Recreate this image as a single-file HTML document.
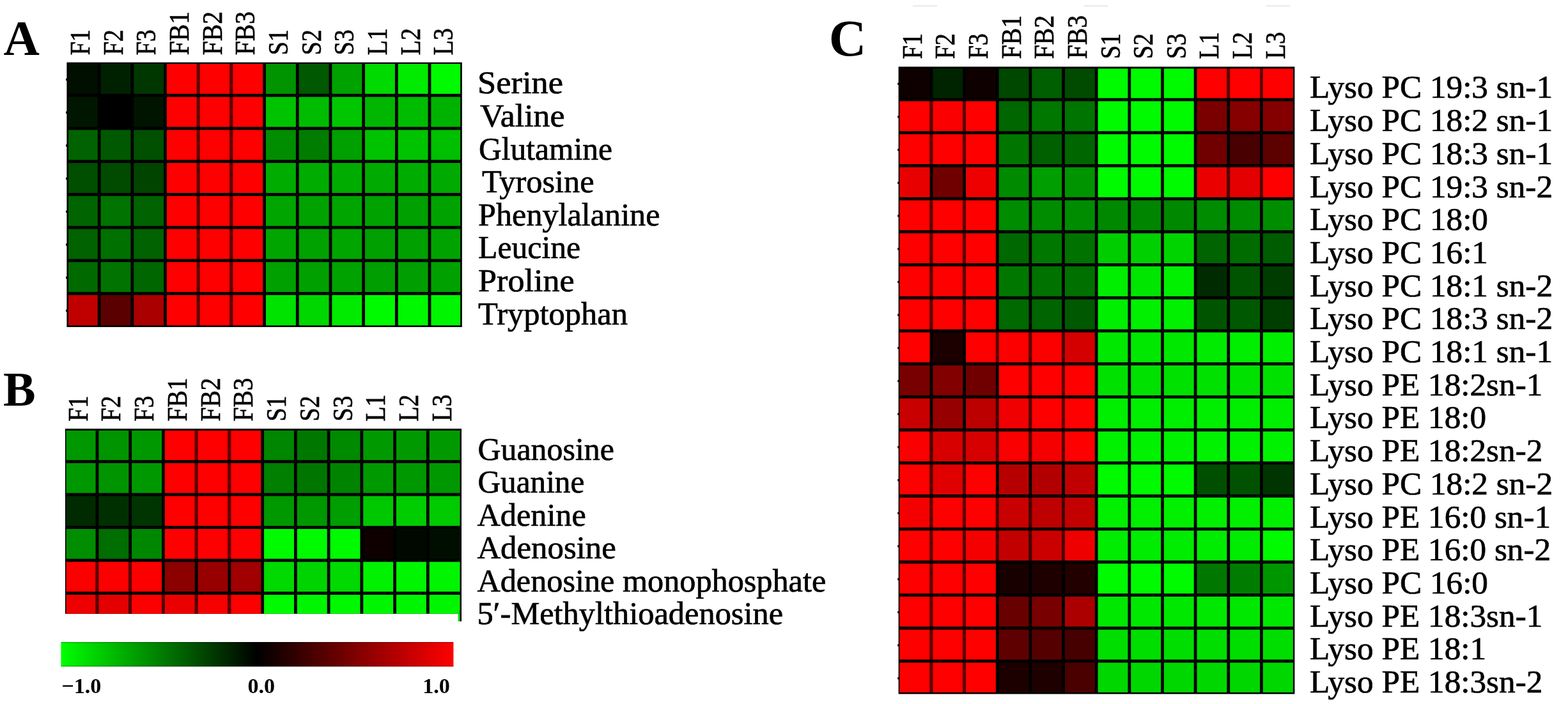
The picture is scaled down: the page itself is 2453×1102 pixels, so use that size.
<!DOCTYPE html>
<html lang="en">
<head>
<meta charset="utf-8">
<title>Heatmap of metabolites</title>
<style>
html,body{margin:0;padding:0;background:#fff;}
body{width:2453px;height:1102px;overflow:hidden;}
svg{display:block;}
text{font-family:"Liberation Serif","DejaVu Serif",serif;fill:#000;}
.pl{font-weight:bold;}
.sl{font-weight:bold;}
.cl{stroke:#000;stroke-width:0.7px;}
.rl{stroke:#000;stroke-width:0.7px;}
</style>
</head>
<body>
<svg width="2453" height="1102" viewBox="0 0 2453 1102">
<defs><linearGradient id="cb" x1="0" x2="1" y1="0" y2="0"><stop offset="0" stop-color="#00ff00"/><stop offset="0.5" stop-color="#000000"/><stop offset="1" stop-color="#ff0000"/></linearGradient></defs>
<rect x="1428" y="8.5" width="38" height="1.6" fill="#e4e4e4"/>
<rect x="1695.5" y="8.5" width="38" height="1.6" fill="#e4e4e4"/>
<rect x="1980.6" y="8.5" width="38" height="1.6" fill="#e4e4e4"/>
<g>
<rect x="104.4" y="97.6" width="618.4" height="414.4" fill="#000"/>
<rect x="107" y="100" width="45.8" height="46.9" fill="#000f00"/>
<rect x="157.6" y="100" width="46.88" height="46.9" fill="#002100"/>
<rect x="209.28" y="100" width="46.88" height="46.9" fill="#003700"/>
<rect x="260.96" y="100" width="46.88" height="46.9" fill="#ff0000"/>
<rect x="307.84" y="100" width="4.8" height="46.9" fill="#5b0000"/>
<rect x="312.64" y="100" width="46.88" height="46.9" fill="#ff0000"/>
<rect x="359.52" y="100" width="4.8" height="46.9" fill="#5b0000"/>
<rect x="364.32" y="100" width="46.88" height="46.9" fill="#ff0000"/>
<rect x="416" y="100" width="46.88" height="46.9" fill="#009400"/>
<rect x="467.68" y="100" width="46.88" height="46.9" fill="#005800"/>
<rect x="519.36" y="100" width="46.88" height="46.9" fill="#00a200"/>
<rect x="571.04" y="100" width="46.88" height="46.9" fill="#00da00"/>
<rect x="622.72" y="100" width="46.88" height="46.9" fill="#00eb00"/>
<rect x="674.4" y="100" width="45.8" height="46.9" fill="#00fa00"/>
<rect x="107" y="151.7" width="45.8" height="46.9" fill="#001600"/>
<rect x="157.6" y="151.7" width="46.88" height="46.9" fill="#000000"/>
<rect x="209.28" y="151.7" width="46.88" height="46.9" fill="#001400"/>
<rect x="260.96" y="151.7" width="46.88" height="46.9" fill="#ff0000"/>
<rect x="307.84" y="151.7" width="4.8" height="46.9" fill="#5b0000"/>
<rect x="312.64" y="151.7" width="46.88" height="46.9" fill="#ff0000"/>
<rect x="359.52" y="151.7" width="4.8" height="46.9" fill="#5b0000"/>
<rect x="364.32" y="151.7" width="46.88" height="46.9" fill="#ff0000"/>
<rect x="416" y="151.7" width="46.88" height="46.9" fill="#00c300"/>
<rect x="467.68" y="151.7" width="46.88" height="46.9" fill="#00bc00"/>
<rect x="519.36" y="151.7" width="46.88" height="46.9" fill="#00c600"/>
<rect x="571.04" y="151.7" width="46.88" height="46.9" fill="#00b600"/>
<rect x="622.72" y="151.7" width="46.88" height="46.9" fill="#00bc00"/>
<rect x="674.4" y="151.7" width="45.8" height="46.9" fill="#00b200"/>
<rect x="107" y="203.4" width="45.8" height="46.9" fill="#006200"/>
<rect x="157.6" y="203.4" width="46.88" height="46.9" fill="#005800"/>
<rect x="209.28" y="203.4" width="46.88" height="46.9" fill="#005000"/>
<rect x="260.96" y="203.4" width="46.88" height="46.9" fill="#ff0000"/>
<rect x="307.84" y="203.4" width="4.8" height="46.9" fill="#5b0000"/>
<rect x="312.64" y="203.4" width="46.88" height="46.9" fill="#ff0000"/>
<rect x="359.52" y="203.4" width="4.8" height="46.9" fill="#5b0000"/>
<rect x="364.32" y="203.4" width="46.88" height="46.9" fill="#ff0000"/>
<rect x="416" y="203.4" width="46.88" height="46.9" fill="#008e00"/>
<rect x="467.68" y="203.4" width="46.88" height="46.9" fill="#007d00"/>
<rect x="519.36" y="203.4" width="46.88" height="46.9" fill="#00a000"/>
<rect x="571.04" y="203.4" width="46.88" height="46.9" fill="#00c300"/>
<rect x="622.72" y="203.4" width="46.88" height="46.9" fill="#00c300"/>
<rect x="674.4" y="203.4" width="45.8" height="46.9" fill="#00be00"/>
<rect x="107" y="255.1" width="45.8" height="46.9" fill="#004e00"/>
<rect x="157.6" y="255.1" width="46.88" height="46.9" fill="#004b00"/>
<rect x="209.28" y="255.1" width="46.88" height="46.9" fill="#004400"/>
<rect x="260.96" y="255.1" width="46.88" height="46.9" fill="#ff0000"/>
<rect x="307.84" y="255.1" width="4.8" height="46.9" fill="#5b0000"/>
<rect x="312.64" y="255.1" width="46.88" height="46.9" fill="#ff0000"/>
<rect x="359.52" y="255.1" width="4.8" height="46.9" fill="#5b0000"/>
<rect x="364.32" y="255.1" width="46.88" height="46.9" fill="#ff0000"/>
<rect x="416" y="255.1" width="46.88" height="46.9" fill="#00ac00"/>
<rect x="467.68" y="255.1" width="46.88" height="46.9" fill="#00ac00"/>
<rect x="519.36" y="255.1" width="46.88" height="46.9" fill="#00ac00"/>
<rect x="571.04" y="255.1" width="46.88" height="46.9" fill="#00aa00"/>
<rect x="622.72" y="255.1" width="46.88" height="46.9" fill="#00ac00"/>
<rect x="674.4" y="255.1" width="45.8" height="46.9" fill="#00aa00"/>
<rect x="107" y="306.8" width="45.8" height="46.9" fill="#006400"/>
<rect x="157.6" y="306.8" width="46.88" height="46.9" fill="#007300"/>
<rect x="209.28" y="306.8" width="46.88" height="46.9" fill="#006200"/>
<rect x="260.96" y="306.8" width="46.88" height="46.9" fill="#ff0000"/>
<rect x="307.84" y="306.8" width="4.8" height="46.9" fill="#5b0000"/>
<rect x="312.64" y="306.8" width="46.88" height="46.9" fill="#ff0000"/>
<rect x="359.52" y="306.8" width="4.8" height="46.9" fill="#5b0000"/>
<rect x="364.32" y="306.8" width="46.88" height="46.9" fill="#ff0000"/>
<rect x="416" y="306.8" width="46.88" height="46.9" fill="#00a500"/>
<rect x="467.68" y="306.8" width="46.88" height="46.9" fill="#00a200"/>
<rect x="519.36" y="306.8" width="46.88" height="46.9" fill="#00a500"/>
<rect x="571.04" y="306.8" width="46.88" height="46.9" fill="#00a200"/>
<rect x="622.72" y="306.8" width="46.88" height="46.9" fill="#00a000"/>
<rect x="674.4" y="306.8" width="45.8" height="46.9" fill="#00a200"/>
<rect x="107" y="358.5" width="45.8" height="46.9" fill="#006200"/>
<rect x="157.6" y="358.5" width="46.88" height="46.9" fill="#007000"/>
<rect x="209.28" y="358.5" width="46.88" height="46.9" fill="#006200"/>
<rect x="260.96" y="358.5" width="46.88" height="46.9" fill="#ff0000"/>
<rect x="307.84" y="358.5" width="4.8" height="46.9" fill="#5b0000"/>
<rect x="312.64" y="358.5" width="46.88" height="46.9" fill="#ff0000"/>
<rect x="359.52" y="358.5" width="4.8" height="46.9" fill="#5b0000"/>
<rect x="364.32" y="358.5" width="46.88" height="46.9" fill="#ff0000"/>
<rect x="416" y="358.5" width="46.88" height="46.9" fill="#00a500"/>
<rect x="467.68" y="358.5" width="46.88" height="46.9" fill="#00a200"/>
<rect x="519.36" y="358.5" width="46.88" height="46.9" fill="#00a500"/>
<rect x="571.04" y="358.5" width="46.88" height="46.9" fill="#00a000"/>
<rect x="622.72" y="358.5" width="46.88" height="46.9" fill="#00a000"/>
<rect x="674.4" y="358.5" width="45.8" height="46.9" fill="#00a200"/>
<rect x="107" y="410.2" width="45.8" height="46.9" fill="#006900"/>
<rect x="157.6" y="410.2" width="46.88" height="46.9" fill="#007300"/>
<rect x="209.28" y="410.2" width="46.88" height="46.9" fill="#006600"/>
<rect x="260.96" y="410.2" width="46.88" height="46.9" fill="#ff0000"/>
<rect x="307.84" y="410.2" width="4.8" height="46.9" fill="#5b0000"/>
<rect x="312.64" y="410.2" width="46.88" height="46.9" fill="#ff0000"/>
<rect x="359.52" y="410.2" width="4.8" height="46.9" fill="#5b0000"/>
<rect x="364.32" y="410.2" width="46.88" height="46.9" fill="#ff0000"/>
<rect x="416" y="410.2" width="46.88" height="46.9" fill="#00a000"/>
<rect x="467.68" y="410.2" width="46.88" height="46.9" fill="#00a000"/>
<rect x="519.36" y="410.2" width="46.88" height="46.9" fill="#00a200"/>
<rect x="571.04" y="410.2" width="46.88" height="46.9" fill="#009e00"/>
<rect x="622.72" y="410.2" width="46.88" height="46.9" fill="#009e00"/>
<rect x="674.4" y="410.2" width="45.8" height="46.9" fill="#00a000"/>
<rect x="107" y="461.9" width="45.8" height="47.5" fill="#c00000"/>
<rect x="157.6" y="461.9" width="46.88" height="47.5" fill="#5a0000"/>
<rect x="209.28" y="461.9" width="46.88" height="47.5" fill="#aa0000"/>
<rect x="260.96" y="461.9" width="46.88" height="47.5" fill="#ff0000"/>
<rect x="307.84" y="461.9" width="4.8" height="47.5" fill="#5b0000"/>
<rect x="312.64" y="461.9" width="46.88" height="47.5" fill="#ff0000"/>
<rect x="359.52" y="461.9" width="4.8" height="47.5" fill="#5b0000"/>
<rect x="364.32" y="461.9" width="46.88" height="47.5" fill="#ff0000"/>
<rect x="416" y="461.9" width="46.88" height="47.5" fill="#00e200"/>
<rect x="467.68" y="461.9" width="46.88" height="47.5" fill="#00d600"/>
<rect x="519.36" y="461.9" width="46.88" height="47.5" fill="#00eb00"/>
<rect x="571.04" y="461.9" width="46.88" height="47.5" fill="#00fa00"/>
<rect x="622.72" y="461.9" width="46.88" height="47.5" fill="#00f800"/>
<rect x="674.4" y="461.9" width="45.8" height="47.5" fill="#00f500"/>
<rect x="103" y="122.75" width="2.2" height="3.4" fill="#111"/>
<rect x="103" y="174.45" width="2.2" height="3.4" fill="#111"/>
<rect x="103" y="226.15" width="2.2" height="3.4" fill="#111"/>
<rect x="103" y="277.85" width="2.2" height="3.4" fill="#111"/>
<rect x="103" y="329.55" width="2.2" height="3.4" fill="#111"/>
<rect x="103" y="381.25" width="2.2" height="3.4" fill="#111"/>
<rect x="103" y="432.95" width="2.2" height="3.4" fill="#111"/>
<rect x="103" y="484.65" width="2.2" height="3.4" fill="#111"/>
</g>
<g>
<rect x="102" y="671" width="620" height="289.8" fill="#000"/>
<rect x="103.6" y="674" width="46" height="46.2" fill="#009800"/>
<rect x="154.4" y="674" width="46.93" height="46.2" fill="#009400"/>
<rect x="206.13" y="674" width="46.93" height="46.2" fill="#009800"/>
<rect x="257.86" y="674" width="46.93" height="46.2" fill="#ff0000"/>
<rect x="304.79" y="674" width="4.8" height="46.2" fill="#5b0000"/>
<rect x="309.59" y="674" width="46.93" height="46.2" fill="#ff0000"/>
<rect x="356.52" y="674" width="4.8" height="46.2" fill="#5b0000"/>
<rect x="361.32" y="674" width="46.93" height="46.2" fill="#ff0000"/>
<rect x="413.05" y="674" width="46.93" height="46.2" fill="#008600"/>
<rect x="464.78" y="674" width="46.93" height="46.2" fill="#007800"/>
<rect x="516.51" y="674" width="46.93" height="46.2" fill="#008a00"/>
<rect x="568.24" y="674" width="46.93" height="46.2" fill="#009a00"/>
<rect x="619.97" y="674" width="46.93" height="46.2" fill="#009a00"/>
<rect x="671.7" y="674" width="47.8" height="46.2" fill="#009a00"/>
<rect x="103.6" y="725" width="46" height="46.7" fill="#009800"/>
<rect x="154.4" y="725" width="46.93" height="46.7" fill="#009400"/>
<rect x="206.13" y="725" width="46.93" height="46.7" fill="#009800"/>
<rect x="257.86" y="725" width="46.93" height="46.7" fill="#ff0000"/>
<rect x="304.79" y="725" width="4.8" height="46.7" fill="#5b0000"/>
<rect x="309.59" y="725" width="46.93" height="46.7" fill="#ff0000"/>
<rect x="356.52" y="725" width="4.8" height="46.7" fill="#5b0000"/>
<rect x="361.32" y="725" width="46.93" height="46.7" fill="#ff0000"/>
<rect x="413.05" y="725" width="46.93" height="46.7" fill="#007f00"/>
<rect x="464.78" y="725" width="46.93" height="46.7" fill="#007600"/>
<rect x="516.51" y="725" width="46.93" height="46.7" fill="#008400"/>
<rect x="568.24" y="725" width="46.93" height="46.7" fill="#009900"/>
<rect x="619.97" y="725" width="46.93" height="46.7" fill="#009800"/>
<rect x="671.7" y="725" width="47.8" height="46.7" fill="#009800"/>
<rect x="103.6" y="776.5" width="46" height="46.7" fill="#002a00"/>
<rect x="154.4" y="776.5" width="46.93" height="46.7" fill="#003000"/>
<rect x="206.13" y="776.5" width="46.93" height="46.7" fill="#003400"/>
<rect x="257.86" y="776.5" width="46.93" height="46.7" fill="#ff0000"/>
<rect x="304.79" y="776.5" width="4.8" height="46.7" fill="#5b0000"/>
<rect x="309.59" y="776.5" width="46.93" height="46.7" fill="#ff0000"/>
<rect x="356.52" y="776.5" width="4.8" height="46.7" fill="#5b0000"/>
<rect x="361.32" y="776.5" width="46.93" height="46.7" fill="#ff0000"/>
<rect x="413.05" y="776.5" width="46.93" height="46.7" fill="#009800"/>
<rect x="464.78" y="776.5" width="46.93" height="46.7" fill="#009800"/>
<rect x="516.51" y="776.5" width="46.93" height="46.7" fill="#009e00"/>
<rect x="568.24" y="776.5" width="46.93" height="46.7" fill="#00c800"/>
<rect x="619.97" y="776.5" width="46.93" height="46.7" fill="#00cd00"/>
<rect x="671.7" y="776.5" width="47.8" height="46.7" fill="#00ca00"/>
<rect x="103.6" y="828" width="46" height="46.7" fill="#008e00"/>
<rect x="154.4" y="828" width="46.93" height="46.7" fill="#006e00"/>
<rect x="206.13" y="828" width="46.93" height="46.7" fill="#008700"/>
<rect x="257.86" y="828" width="46.93" height="46.7" fill="#ff0000"/>
<rect x="304.79" y="828" width="4.8" height="46.7" fill="#5b0000"/>
<rect x="309.59" y="828" width="46.93" height="46.7" fill="#ff0000"/>
<rect x="356.52" y="828" width="4.8" height="46.7" fill="#5b0000"/>
<rect x="361.32" y="828" width="46.93" height="46.7" fill="#ff0000"/>
<rect x="413.05" y="828" width="46.93" height="46.7" fill="#00fa00"/>
<rect x="464.78" y="828" width="46.93" height="46.7" fill="#00fa00"/>
<rect x="516.51" y="828" width="46.93" height="46.7" fill="#00fa00"/>
<rect x="568.24" y="828" width="46.93" height="46.7" fill="#0e0000"/>
<rect x="619.97" y="828" width="46.93" height="46.7" fill="#000800"/>
<rect x="671.7" y="828" width="47.8" height="46.7" fill="#000e00"/>
<rect x="103.6" y="879.5" width="46" height="46.7" fill="#fc0000"/>
<rect x="149.6" y="879.5" width="4.8" height="46.7" fill="#5a0000"/>
<rect x="154.4" y="879.5" width="46.93" height="46.7" fill="#fc0000"/>
<rect x="201.33" y="879.5" width="4.8" height="46.7" fill="#5a0000"/>
<rect x="206.13" y="879.5" width="46.93" height="46.7" fill="#fc0000"/>
<rect x="257.86" y="879.5" width="46.93" height="46.7" fill="#8c0000"/>
<rect x="309.59" y="879.5" width="46.93" height="46.7" fill="#980000"/>
<rect x="361.32" y="879.5" width="46.93" height="46.7" fill="#a00000"/>
<rect x="413.05" y="879.5" width="46.93" height="46.7" fill="#00da00"/>
<rect x="464.78" y="879.5" width="46.93" height="46.7" fill="#00d400"/>
<rect x="516.51" y="879.5" width="46.93" height="46.7" fill="#00da00"/>
<rect x="568.24" y="879.5" width="46.93" height="46.7" fill="#00f200"/>
<rect x="619.97" y="879.5" width="46.93" height="46.7" fill="#00f600"/>
<rect x="671.7" y="879.5" width="47.8" height="46.7" fill="#00f600"/>
<rect x="103.6" y="931" width="46" height="29.8" fill="#ee0000"/>
<rect x="149.6" y="931" width="4.8" height="29.8" fill="#520000"/>
<rect x="154.4" y="931" width="46.93" height="29.8" fill="#e40000"/>
<rect x="201.33" y="931" width="4.8" height="29.8" fill="#520000"/>
<rect x="206.13" y="931" width="46.93" height="29.8" fill="#fc0000"/>
<rect x="253.06" y="931" width="4.8" height="29.8" fill="#540000"/>
<rect x="257.86" y="931" width="46.93" height="29.8" fill="#eb0000"/>
<rect x="304.79" y="931" width="4.8" height="29.8" fill="#540000"/>
<rect x="309.59" y="931" width="46.93" height="29.8" fill="#f60000"/>
<rect x="356.52" y="931" width="4.8" height="29.8" fill="#580000"/>
<rect x="361.32" y="931" width="46.93" height="29.8" fill="#fc0000"/>
<rect x="413.05" y="931" width="46.93" height="29.8" fill="#00fa00"/>
<rect x="464.78" y="931" width="46.93" height="29.8" fill="#00f600"/>
<rect x="516.51" y="931" width="46.93" height="29.8" fill="#00f800"/>
<rect x="568.24" y="931" width="46.93" height="29.8" fill="#00f600"/>
<rect x="619.97" y="931" width="46.93" height="29.8" fill="#00f600"/>
<rect x="671.7" y="931" width="47.8" height="29.8" fill="#00f600"/>
</g>
<rect x="716.6" y="958" width="3" height="14.6" fill="#00e400"/>
<rect x="719.5" y="955" width="2.5" height="17.6" fill="#000"/>
<g>
<rect x="1405.6" y="104.4" width="619.8" height="982" fill="#000"/>
<rect x="1407.4" y="107.4" width="47.2" height="46.2" fill="#0f0000"/>
<rect x="1459.4" y="107.4" width="46.84" height="46.2" fill="#002300"/>
<rect x="1511.04" y="107.4" width="46.84" height="46.2" fill="#0f0000"/>
<rect x="1562.68" y="107.4" width="46.84" height="46.2" fill="#004800"/>
<rect x="1614.32" y="107.4" width="46.84" height="46.2" fill="#005f00"/>
<rect x="1665.96" y="107.4" width="46.84" height="46.2" fill="#004b00"/>
<rect x="1717.6" y="107.4" width="46.84" height="46.2" fill="#00fa00"/>
<rect x="1769.24" y="107.4" width="46.84" height="46.2" fill="#00fa00"/>
<rect x="1820.88" y="107.4" width="46.84" height="46.2" fill="#00fa00"/>
<rect x="1872.52" y="107.4" width="46.84" height="46.2" fill="#ff0000"/>
<rect x="1919.36" y="107.4" width="4.8" height="46.2" fill="#5b0000"/>
<rect x="1924.16" y="107.4" width="46.84" height="46.2" fill="#ff0000"/>
<rect x="1971" y="107.4" width="4.8" height="46.2" fill="#5b0000"/>
<rect x="1975.8" y="107.4" width="47" height="46.2" fill="#ff0000"/>
<rect x="1407.4" y="158.4" width="47.2" height="46.9" fill="#ff0000"/>
<rect x="1454.6" y="158.4" width="4.8" height="46.9" fill="#5a0000"/>
<rect x="1459.4" y="158.4" width="46.84" height="46.9" fill="#fa0000"/>
<rect x="1506.24" y="158.4" width="4.8" height="46.9" fill="#5a0000"/>
<rect x="1511.04" y="158.4" width="46.84" height="46.9" fill="#ff0000"/>
<rect x="1562.68" y="158.4" width="46.84" height="46.9" fill="#006600"/>
<rect x="1614.32" y="158.4" width="46.84" height="46.9" fill="#007800"/>
<rect x="1665.96" y="158.4" width="46.84" height="46.9" fill="#007400"/>
<rect x="1717.6" y="158.4" width="46.84" height="46.9" fill="#00fa00"/>
<rect x="1769.24" y="158.4" width="46.84" height="46.9" fill="#00fa00"/>
<rect x="1820.88" y="158.4" width="46.84" height="46.9" fill="#00fa00"/>
<rect x="1872.52" y="158.4" width="46.84" height="46.9" fill="#7a0000"/>
<rect x="1924.16" y="158.4" width="46.84" height="46.9" fill="#870000"/>
<rect x="1975.8" y="158.4" width="47" height="46.9" fill="#840000"/>
<rect x="1407.4" y="210.1" width="47.2" height="46.9" fill="#ff0000"/>
<rect x="1454.6" y="210.1" width="4.8" height="46.9" fill="#5b0000"/>
<rect x="1459.4" y="210.1" width="46.84" height="46.9" fill="#ff0000"/>
<rect x="1506.24" y="210.1" width="4.8" height="46.9" fill="#5b0000"/>
<rect x="1511.04" y="210.1" width="46.84" height="46.9" fill="#ff0000"/>
<rect x="1562.68" y="210.1" width="46.84" height="46.9" fill="#007600"/>
<rect x="1614.32" y="210.1" width="46.84" height="46.9" fill="#006000"/>
<rect x="1665.96" y="210.1" width="46.84" height="46.9" fill="#006600"/>
<rect x="1717.6" y="210.1" width="46.84" height="46.9" fill="#00fa00"/>
<rect x="1769.24" y="210.1" width="46.84" height="46.9" fill="#00fa00"/>
<rect x="1820.88" y="210.1" width="46.84" height="46.9" fill="#00fa00"/>
<rect x="1872.52" y="210.1" width="46.84" height="46.9" fill="#700000"/>
<rect x="1924.16" y="210.1" width="46.84" height="46.9" fill="#480000"/>
<rect x="1975.8" y="210.1" width="47" height="46.9" fill="#5c0000"/>
<rect x="1407.4" y="261.8" width="47.2" height="46.9" fill="#e80000"/>
<rect x="1459.4" y="261.8" width="46.84" height="46.9" fill="#700000"/>
<rect x="1511.04" y="261.8" width="46.84" height="46.9" fill="#ee0000"/>
<rect x="1562.68" y="261.8" width="46.84" height="46.9" fill="#008a00"/>
<rect x="1614.32" y="261.8" width="46.84" height="46.9" fill="#009e00"/>
<rect x="1665.96" y="261.8" width="46.84" height="46.9" fill="#009400"/>
<rect x="1717.6" y="261.8" width="46.84" height="46.9" fill="#00fa00"/>
<rect x="1769.24" y="261.8" width="46.84" height="46.9" fill="#00fa00"/>
<rect x="1820.88" y="261.8" width="46.84" height="46.9" fill="#00fa00"/>
<rect x="1872.52" y="261.8" width="46.84" height="46.9" fill="#eb0000"/>
<rect x="1919.36" y="261.8" width="4.8" height="46.9" fill="#520000"/>
<rect x="1924.16" y="261.8" width="46.84" height="46.9" fill="#e40000"/>
<rect x="1971" y="261.8" width="4.8" height="46.9" fill="#520000"/>
<rect x="1975.8" y="261.8" width="47" height="46.9" fill="#ff0000"/>
<rect x="1407.4" y="313.5" width="47.2" height="46.9" fill="#ff0000"/>
<rect x="1454.6" y="313.5" width="4.8" height="46.9" fill="#5b0000"/>
<rect x="1459.4" y="313.5" width="46.84" height="46.9" fill="#ff0000"/>
<rect x="1506.24" y="313.5" width="4.8" height="46.9" fill="#5b0000"/>
<rect x="1511.04" y="313.5" width="46.84" height="46.9" fill="#ff0000"/>
<rect x="1562.68" y="313.5" width="46.84" height="46.9" fill="#008c00"/>
<rect x="1614.32" y="313.5" width="46.84" height="46.9" fill="#008c00"/>
<rect x="1665.96" y="313.5" width="46.84" height="46.9" fill="#008c00"/>
<rect x="1717.6" y="313.5" width="46.84" height="46.9" fill="#008800"/>
<rect x="1769.24" y="313.5" width="46.84" height="46.9" fill="#008500"/>
<rect x="1820.88" y="313.5" width="46.84" height="46.9" fill="#008800"/>
<rect x="1872.52" y="313.5" width="46.84" height="46.9" fill="#008c00"/>
<rect x="1924.16" y="313.5" width="46.84" height="46.9" fill="#008c00"/>
<rect x="1975.8" y="313.5" width="47" height="46.9" fill="#008e00"/>
<rect x="1407.4" y="365.2" width="47.2" height="46.9" fill="#ff0000"/>
<rect x="1454.6" y="365.2" width="4.8" height="46.9" fill="#5b0000"/>
<rect x="1459.4" y="365.2" width="46.84" height="46.9" fill="#ff0000"/>
<rect x="1506.24" y="365.2" width="4.8" height="46.9" fill="#5b0000"/>
<rect x="1511.04" y="365.2" width="46.84" height="46.9" fill="#ff0000"/>
<rect x="1562.68" y="365.2" width="46.84" height="46.9" fill="#006800"/>
<rect x="1614.32" y="365.2" width="46.84" height="46.9" fill="#007800"/>
<rect x="1665.96" y="365.2" width="46.84" height="46.9" fill="#007200"/>
<rect x="1717.6" y="365.2" width="46.84" height="46.9" fill="#00cd00"/>
<rect x="1769.24" y="365.2" width="46.84" height="46.9" fill="#00d000"/>
<rect x="1820.88" y="365.2" width="46.84" height="46.9" fill="#00d400"/>
<rect x="1872.52" y="365.2" width="46.84" height="46.9" fill="#006400"/>
<rect x="1924.16" y="365.2" width="46.84" height="46.9" fill="#006c00"/>
<rect x="1975.8" y="365.2" width="47" height="46.9" fill="#005c00"/>
<rect x="1407.4" y="416.9" width="47.2" height="46.9" fill="#ff0000"/>
<rect x="1454.6" y="416.9" width="4.8" height="46.9" fill="#5b0000"/>
<rect x="1459.4" y="416.9" width="46.84" height="46.9" fill="#ff0000"/>
<rect x="1506.24" y="416.9" width="4.8" height="46.9" fill="#5b0000"/>
<rect x="1511.04" y="416.9" width="46.84" height="46.9" fill="#ff0000"/>
<rect x="1562.68" y="416.9" width="46.84" height="46.9" fill="#007800"/>
<rect x="1614.32" y="416.9" width="46.84" height="46.9" fill="#007200"/>
<rect x="1665.96" y="416.9" width="46.84" height="46.9" fill="#007000"/>
<rect x="1717.6" y="416.9" width="46.84" height="46.9" fill="#00ee00"/>
<rect x="1769.24" y="416.9" width="46.84" height="46.9" fill="#00e600"/>
<rect x="1820.88" y="416.9" width="46.84" height="46.9" fill="#00f000"/>
<rect x="1872.52" y="416.9" width="46.84" height="46.9" fill="#002a00"/>
<rect x="1924.16" y="416.9" width="46.84" height="46.9" fill="#005400"/>
<rect x="1975.8" y="416.9" width="47" height="46.9" fill="#003c00"/>
<rect x="1407.4" y="468.6" width="47.2" height="46.9" fill="#ff0000"/>
<rect x="1454.6" y="468.6" width="4.8" height="46.9" fill="#5b0000"/>
<rect x="1459.4" y="468.6" width="46.84" height="46.9" fill="#ff0000"/>
<rect x="1506.24" y="468.6" width="4.8" height="46.9" fill="#5b0000"/>
<rect x="1511.04" y="468.6" width="46.84" height="46.9" fill="#ff0000"/>
<rect x="1562.68" y="468.6" width="46.84" height="46.9" fill="#006900"/>
<rect x="1614.32" y="468.6" width="46.84" height="46.9" fill="#006400"/>
<rect x="1665.96" y="468.6" width="46.84" height="46.9" fill="#005800"/>
<rect x="1717.6" y="468.6" width="46.84" height="46.9" fill="#00ee00"/>
<rect x="1769.24" y="468.6" width="46.84" height="46.9" fill="#00f000"/>
<rect x="1820.88" y="468.6" width="46.84" height="46.9" fill="#00f000"/>
<rect x="1872.52" y="468.6" width="46.84" height="46.9" fill="#005400"/>
<rect x="1924.16" y="468.6" width="46.84" height="46.9" fill="#005800"/>
<rect x="1975.8" y="468.6" width="47" height="46.9" fill="#003e00"/>
<rect x="1407.4" y="520.3" width="47.2" height="46.9" fill="#ff0000"/>
<rect x="1459.4" y="520.3" width="46.84" height="46.9" fill="#1c0000"/>
<rect x="1511.04" y="520.3" width="46.84" height="46.9" fill="#ff0000"/>
<rect x="1557.88" y="520.3" width="4.8" height="46.9" fill="#5a0000"/>
<rect x="1562.68" y="520.3" width="46.84" height="46.9" fill="#fc0000"/>
<rect x="1609.52" y="520.3" width="4.8" height="46.9" fill="#5a0000"/>
<rect x="1614.32" y="520.3" width="46.84" height="46.9" fill="#fc0000"/>
<rect x="1661.16" y="520.3" width="4.8" height="46.9" fill="#4c0000"/>
<rect x="1665.96" y="520.3" width="46.84" height="46.9" fill="#d40000"/>
<rect x="1717.6" y="520.3" width="46.84" height="46.9" fill="#00e800"/>
<rect x="1769.24" y="520.3" width="46.84" height="46.9" fill="#00e800"/>
<rect x="1820.88" y="520.3" width="46.84" height="46.9" fill="#00e800"/>
<rect x="1872.52" y="520.3" width="46.84" height="46.9" fill="#00eb00"/>
<rect x="1924.16" y="520.3" width="46.84" height="46.9" fill="#00ee00"/>
<rect x="1975.8" y="520.3" width="47" height="46.9" fill="#00ee00"/>
<rect x="1407.4" y="572" width="47.2" height="46.9" fill="#780000"/>
<rect x="1459.4" y="572" width="46.84" height="46.9" fill="#820000"/>
<rect x="1511.04" y="572" width="46.84" height="46.9" fill="#700000"/>
<rect x="1562.68" y="572" width="46.84" height="46.9" fill="#ff0000"/>
<rect x="1609.52" y="572" width="4.8" height="46.9" fill="#5b0000"/>
<rect x="1614.32" y="572" width="46.84" height="46.9" fill="#ff0000"/>
<rect x="1661.16" y="572" width="4.8" height="46.9" fill="#5b0000"/>
<rect x="1665.96" y="572" width="46.84" height="46.9" fill="#ff0000"/>
<rect x="1717.6" y="572" width="46.84" height="46.9" fill="#00e100"/>
<rect x="1769.24" y="572" width="46.84" height="46.9" fill="#00e100"/>
<rect x="1820.88" y="572" width="46.84" height="46.9" fill="#00e100"/>
<rect x="1872.52" y="572" width="46.84" height="46.9" fill="#00e100"/>
<rect x="1924.16" y="572" width="46.84" height="46.9" fill="#00e100"/>
<rect x="1975.8" y="572" width="47" height="46.9" fill="#00e100"/>
<rect x="1407.4" y="623.7" width="47.2" height="46.9" fill="#c80000"/>
<rect x="1459.4" y="623.7" width="46.84" height="46.9" fill="#960000"/>
<rect x="1511.04" y="623.7" width="46.84" height="46.9" fill="#bc0000"/>
<rect x="1557.88" y="623.7" width="4.8" height="46.9" fill="#430000"/>
<rect x="1562.68" y="623.7" width="46.84" height="46.9" fill="#f00000"/>
<rect x="1609.52" y="623.7" width="4.8" height="46.9" fill="#560000"/>
<rect x="1614.32" y="623.7" width="46.84" height="46.9" fill="#ff0000"/>
<rect x="1661.16" y="623.7" width="4.8" height="46.9" fill="#5b0000"/>
<rect x="1665.96" y="623.7" width="46.84" height="46.9" fill="#ff0000"/>
<rect x="1717.6" y="623.7" width="46.84" height="46.9" fill="#00ee00"/>
<rect x="1769.24" y="623.7" width="46.84" height="46.9" fill="#00ee00"/>
<rect x="1820.88" y="623.7" width="46.84" height="46.9" fill="#00ee00"/>
<rect x="1872.52" y="623.7" width="46.84" height="46.9" fill="#00ee00"/>
<rect x="1924.16" y="623.7" width="46.84" height="46.9" fill="#00ee00"/>
<rect x="1975.8" y="623.7" width="47" height="46.9" fill="#00ee00"/>
<rect x="1407.4" y="675.4" width="47.2" height="46.9" fill="#fa0000"/>
<rect x="1454.6" y="675.4" width="4.8" height="46.9" fill="#4d0000"/>
<rect x="1459.4" y="675.4" width="46.84" height="46.9" fill="#d70000"/>
<rect x="1506.24" y="675.4" width="4.8" height="46.9" fill="#4d0000"/>
<rect x="1511.04" y="675.4" width="46.84" height="46.9" fill="#d70000"/>
<rect x="1557.88" y="675.4" width="4.8" height="46.9" fill="#4d0000"/>
<rect x="1562.68" y="675.4" width="46.84" height="46.9" fill="#fa0000"/>
<rect x="1609.52" y="675.4" width="4.8" height="46.9" fill="#580000"/>
<rect x="1614.32" y="675.4" width="46.84" height="46.9" fill="#f50000"/>
<rect x="1661.16" y="675.4" width="4.8" height="46.9" fill="#580000"/>
<rect x="1665.96" y="675.4" width="46.84" height="46.9" fill="#ff0000"/>
<rect x="1717.6" y="675.4" width="46.84" height="46.9" fill="#00f200"/>
<rect x="1769.24" y="675.4" width="46.84" height="46.9" fill="#00f200"/>
<rect x="1820.88" y="675.4" width="46.84" height="46.9" fill="#00f200"/>
<rect x="1872.52" y="675.4" width="46.84" height="46.9" fill="#00f200"/>
<rect x="1924.16" y="675.4" width="46.84" height="46.9" fill="#00f200"/>
<rect x="1975.8" y="675.4" width="47" height="46.9" fill="#00f200"/>
<rect x="1407.4" y="727.1" width="47.2" height="46.9" fill="#ff0000"/>
<rect x="1454.6" y="727.1" width="4.8" height="46.9" fill="#510000"/>
<rect x="1459.4" y="727.1" width="46.84" height="46.9" fill="#e10000"/>
<rect x="1506.24" y="727.1" width="4.8" height="46.9" fill="#510000"/>
<rect x="1511.04" y="727.1" width="46.84" height="46.9" fill="#ff0000"/>
<rect x="1562.68" y="727.1" width="46.84" height="46.9" fill="#b60000"/>
<rect x="1614.32" y="727.1" width="46.84" height="46.9" fill="#b20000"/>
<rect x="1665.96" y="727.1" width="46.84" height="46.9" fill="#c00000"/>
<rect x="1717.6" y="727.1" width="46.84" height="46.9" fill="#00fa00"/>
<rect x="1769.24" y="727.1" width="46.84" height="46.9" fill="#00fa00"/>
<rect x="1820.88" y="727.1" width="46.84" height="46.9" fill="#00fa00"/>
<rect x="1872.52" y="727.1" width="46.84" height="46.9" fill="#004e00"/>
<rect x="1924.16" y="727.1" width="46.84" height="46.9" fill="#005200"/>
<rect x="1975.8" y="727.1" width="47" height="46.9" fill="#003400"/>
<rect x="1407.4" y="778.8" width="47.2" height="46.9" fill="#f50000"/>
<rect x="1454.6" y="778.8" width="4.8" height="46.9" fill="#580000"/>
<rect x="1459.4" y="778.8" width="46.84" height="46.9" fill="#ff0000"/>
<rect x="1506.24" y="778.8" width="4.8" height="46.9" fill="#5b0000"/>
<rect x="1511.04" y="778.8" width="46.84" height="46.9" fill="#ff0000"/>
<rect x="1557.88" y="778.8" width="4.8" height="46.9" fill="#480000"/>
<rect x="1562.68" y="778.8" width="46.84" height="46.9" fill="#c80000"/>
<rect x="1609.52" y="778.8" width="4.8" height="46.9" fill="#440000"/>
<rect x="1614.32" y="778.8" width="46.84" height="46.9" fill="#be0000"/>
<rect x="1661.16" y="778.8" width="4.8" height="46.9" fill="#440000"/>
<rect x="1665.96" y="778.8" width="46.84" height="46.9" fill="#c30000"/>
<rect x="1717.6" y="778.8" width="46.84" height="46.9" fill="#00f000"/>
<rect x="1769.24" y="778.8" width="46.84" height="46.9" fill="#00f000"/>
<rect x="1820.88" y="778.8" width="46.84" height="46.9" fill="#00f000"/>
<rect x="1872.52" y="778.8" width="46.84" height="46.9" fill="#00f000"/>
<rect x="1924.16" y="778.8" width="46.84" height="46.9" fill="#00f000"/>
<rect x="1975.8" y="778.8" width="47" height="46.9" fill="#00f000"/>
<rect x="1407.4" y="830.5" width="47.2" height="46.9" fill="#ff0000"/>
<rect x="1454.6" y="830.5" width="4.8" height="46.9" fill="#5b0000"/>
<rect x="1459.4" y="830.5" width="46.84" height="46.9" fill="#ff0000"/>
<rect x="1506.24" y="830.5" width="4.8" height="46.9" fill="#580000"/>
<rect x="1511.04" y="830.5" width="46.84" height="46.9" fill="#f50000"/>
<rect x="1557.88" y="830.5" width="4.8" height="46.9" fill="#460000"/>
<rect x="1562.68" y="830.5" width="46.84" height="46.9" fill="#c30000"/>
<rect x="1609.52" y="830.5" width="4.8" height="46.9" fill="#460000"/>
<rect x="1614.32" y="830.5" width="46.84" height="46.9" fill="#ca0000"/>
<rect x="1661.16" y="830.5" width="4.8" height="46.9" fill="#480000"/>
<rect x="1665.96" y="830.5" width="46.84" height="46.9" fill="#ee0000"/>
<rect x="1717.6" y="830.5" width="46.84" height="46.9" fill="#00ec00"/>
<rect x="1769.24" y="830.5" width="46.84" height="46.9" fill="#00ec00"/>
<rect x="1820.88" y="830.5" width="46.84" height="46.9" fill="#00ec00"/>
<rect x="1872.52" y="830.5" width="46.84" height="46.9" fill="#00ec00"/>
<rect x="1924.16" y="830.5" width="46.84" height="46.9" fill="#00ec00"/>
<rect x="1975.8" y="830.5" width="47" height="46.9" fill="#00fa00"/>
<rect x="1407.4" y="882.2" width="47.2" height="46.9" fill="#ff0000"/>
<rect x="1454.6" y="882.2" width="4.8" height="46.9" fill="#5b0000"/>
<rect x="1459.4" y="882.2" width="46.84" height="46.9" fill="#ff0000"/>
<rect x="1506.24" y="882.2" width="4.8" height="46.9" fill="#5b0000"/>
<rect x="1511.04" y="882.2" width="46.84" height="46.9" fill="#ff0000"/>
<rect x="1562.68" y="882.2" width="46.84" height="46.9" fill="#190000"/>
<rect x="1614.32" y="882.2" width="46.84" height="46.9" fill="#1e0000"/>
<rect x="1665.96" y="882.2" width="46.84" height="46.9" fill="#230000"/>
<rect x="1717.6" y="882.2" width="46.84" height="46.9" fill="#00fa00"/>
<rect x="1769.24" y="882.2" width="46.84" height="46.9" fill="#00fa00"/>
<rect x="1820.88" y="882.2" width="46.84" height="46.9" fill="#00fa00"/>
<rect x="1872.52" y="882.2" width="46.84" height="46.9" fill="#007800"/>
<rect x="1924.16" y="882.2" width="46.84" height="46.9" fill="#007d00"/>
<rect x="1975.8" y="882.2" width="47" height="46.9" fill="#009600"/>
<rect x="1407.4" y="933.9" width="47.2" height="46.9" fill="#ff0000"/>
<rect x="1454.6" y="933.9" width="4.8" height="46.9" fill="#5b0000"/>
<rect x="1459.4" y="933.9" width="46.84" height="46.9" fill="#ff0000"/>
<rect x="1506.24" y="933.9" width="4.8" height="46.9" fill="#5b0000"/>
<rect x="1511.04" y="933.9" width="46.84" height="46.9" fill="#ff0000"/>
<rect x="1562.68" y="933.9" width="46.84" height="46.9" fill="#690000"/>
<rect x="1614.32" y="933.9" width="46.84" height="46.9" fill="#780000"/>
<rect x="1665.96" y="933.9" width="46.84" height="46.9" fill="#ac0000"/>
<rect x="1717.6" y="933.9" width="46.84" height="46.9" fill="#00e800"/>
<rect x="1769.24" y="933.9" width="46.84" height="46.9" fill="#00e800"/>
<rect x="1820.88" y="933.9" width="46.84" height="46.9" fill="#00e800"/>
<rect x="1872.52" y="933.9" width="46.84" height="46.9" fill="#00e800"/>
<rect x="1924.16" y="933.9" width="46.84" height="46.9" fill="#00e800"/>
<rect x="1975.8" y="933.9" width="47" height="46.9" fill="#00e800"/>
<rect x="1407.4" y="985.6" width="47.2" height="46.9" fill="#ff0000"/>
<rect x="1454.6" y="985.6" width="4.8" height="46.9" fill="#5b0000"/>
<rect x="1459.4" y="985.6" width="46.84" height="46.9" fill="#ff0000"/>
<rect x="1506.24" y="985.6" width="4.8" height="46.9" fill="#5b0000"/>
<rect x="1511.04" y="985.6" width="46.84" height="46.9" fill="#ff0000"/>
<rect x="1562.68" y="985.6" width="46.84" height="46.9" fill="#5f0000"/>
<rect x="1614.32" y="985.6" width="46.84" height="46.9" fill="#550000"/>
<rect x="1665.96" y="985.6" width="46.84" height="46.9" fill="#460000"/>
<rect x="1717.6" y="985.6" width="46.84" height="46.9" fill="#00de00"/>
<rect x="1769.24" y="985.6" width="46.84" height="46.9" fill="#00de00"/>
<rect x="1820.88" y="985.6" width="46.84" height="46.9" fill="#00de00"/>
<rect x="1872.52" y="985.6" width="46.84" height="46.9" fill="#00de00"/>
<rect x="1924.16" y="985.6" width="46.84" height="46.9" fill="#00de00"/>
<rect x="1975.8" y="985.6" width="47" height="46.9" fill="#00de00"/>
<rect x="1407.4" y="1037.3" width="47.2" height="46.5" fill="#ff0000"/>
<rect x="1454.6" y="1037.3" width="4.8" height="46.5" fill="#5b0000"/>
<rect x="1459.4" y="1037.3" width="46.84" height="46.5" fill="#ff0000"/>
<rect x="1506.24" y="1037.3" width="4.8" height="46.5" fill="#5b0000"/>
<rect x="1511.04" y="1037.3" width="46.84" height="46.5" fill="#ff0000"/>
<rect x="1562.68" y="1037.3" width="46.84" height="46.5" fill="#1c0000"/>
<rect x="1614.32" y="1037.3" width="46.84" height="46.5" fill="#1e0000"/>
<rect x="1665.96" y="1037.3" width="46.84" height="46.5" fill="#4b0000"/>
<rect x="1717.6" y="1037.3" width="46.84" height="46.5" fill="#00d700"/>
<rect x="1769.24" y="1037.3" width="46.84" height="46.5" fill="#00d700"/>
<rect x="1820.88" y="1037.3" width="46.84" height="46.5" fill="#00d700"/>
<rect x="1872.52" y="1037.3" width="46.84" height="46.5" fill="#00d700"/>
<rect x="1924.16" y="1037.3" width="46.84" height="46.5" fill="#00d700"/>
<rect x="1975.8" y="1037.3" width="47" height="46.5" fill="#00d700"/>
<rect x="1404.2" y="129.55" width="2.2" height="3.4" fill="#111"/>
<rect x="1404.2" y="181.15" width="2.2" height="3.4" fill="#111"/>
<rect x="1404.2" y="232.85" width="2.2" height="3.4" fill="#111"/>
<rect x="1404.2" y="284.55" width="2.2" height="3.4" fill="#111"/>
<rect x="1404.2" y="336.25" width="2.2" height="3.4" fill="#111"/>
<rect x="1404.2" y="387.95" width="2.2" height="3.4" fill="#111"/>
<rect x="1404.2" y="439.65" width="2.2" height="3.4" fill="#111"/>
<rect x="1404.2" y="491.35" width="2.2" height="3.4" fill="#111"/>
<rect x="1404.2" y="543.05" width="2.2" height="3.4" fill="#111"/>
<rect x="1404.2" y="594.75" width="2.2" height="3.4" fill="#111"/>
<rect x="1404.2" y="646.45" width="2.2" height="3.4" fill="#111"/>
<rect x="1404.2" y="698.15" width="2.2" height="3.4" fill="#111"/>
<rect x="1404.2" y="749.85" width="2.2" height="3.4" fill="#111"/>
<rect x="1404.2" y="801.55" width="2.2" height="3.4" fill="#111"/>
<rect x="1404.2" y="853.25" width="2.2" height="3.4" fill="#111"/>
<rect x="1404.2" y="904.95" width="2.2" height="3.4" fill="#111"/>
<rect x="1404.2" y="956.65" width="2.2" height="3.4" fill="#111"/>
<rect x="1404.2" y="1008.35" width="2.2" height="3.4" fill="#111"/>
<rect x="1404.2" y="1060.05" width="2.2" height="3.4" fill="#111"/>
</g>
<text class="pl" x="5.5" y="85.5" font-size="78">A</text>
<text class="pl" x="5" y="635" font-size="76">B</text>
<text class="pl" x="1296.8" y="87.2" font-size="81">C</text>
<text class="cl" transform="translate(139.94 86.2) rotate(-90) scale(0.86 1.03)" font-size="44">F1</text>
<text class="cl" transform="translate(191.62 86.2) rotate(-90) scale(0.86 1.03)" font-size="44">F2</text>
<text class="cl" transform="translate(243.3 86.2) rotate(-90) scale(0.86 1.03)" font-size="44">F3</text>
<text class="cl" transform="translate(294.98 86.2) rotate(-90) scale(0.9 1.03)" font-size="44">FB1</text>
<text class="cl" transform="translate(346.66 86.2) rotate(-90) scale(0.9 1.03)" font-size="44">FB2</text>
<text class="cl" transform="translate(398.34 86.2) rotate(-90) scale(0.9 1.03)" font-size="44">FB3</text>
<text class="cl" transform="translate(450.02 86.2) rotate(-90) scale(0.86 1.03)" font-size="44">S1</text>
<text class="cl" transform="translate(501.7 86.2) rotate(-90) scale(0.86 1.03)" font-size="44">S2</text>
<text class="cl" transform="translate(553.38 86.2) rotate(-90) scale(0.86 1.03)" font-size="44">S3</text>
<text class="cl" transform="translate(605.06 86.2) rotate(-90) scale(0.86 1.03)" font-size="44">L1</text>
<text class="cl" transform="translate(656.74 86.2) rotate(-90) scale(0.86 1.03)" font-size="44">L2</text>
<text class="cl" transform="translate(708.42 86.2) rotate(-90) scale(0.86 1.03)" font-size="44">L3</text>
<text class="cl" transform="translate(136.76 659.6) rotate(-90) scale(0.86 1.03)" font-size="44">F1</text>
<text class="cl" transform="translate(188.48 659.6) rotate(-90) scale(0.86 1.03)" font-size="44">F2</text>
<text class="cl" transform="translate(240.2 659.6) rotate(-90) scale(0.86 1.03)" font-size="44">F3</text>
<text class="cl" transform="translate(291.92 659.6) rotate(-90) scale(0.9 1.03)" font-size="44">FB1</text>
<text class="cl" transform="translate(343.64 659.6) rotate(-90) scale(0.9 1.03)" font-size="44">FB2</text>
<text class="cl" transform="translate(395.36 659.6) rotate(-90) scale(0.9 1.03)" font-size="44">FB3</text>
<text class="cl" transform="translate(447.08 659.6) rotate(-90) scale(0.86 1.03)" font-size="44">S1</text>
<text class="cl" transform="translate(498.8 659.6) rotate(-90) scale(0.86 1.03)" font-size="44">S2</text>
<text class="cl" transform="translate(550.52 659.6) rotate(-90) scale(0.86 1.03)" font-size="44">S3</text>
<text class="cl" transform="translate(602.24 659.6) rotate(-90) scale(0.86 1.03)" font-size="44">L1</text>
<text class="cl" transform="translate(653.96 659.6) rotate(-90) scale(0.86 1.03)" font-size="44">L2</text>
<text class="cl" transform="translate(705.68 659.6) rotate(-90) scale(0.86 1.03)" font-size="44">L3</text>
<text class="cl" transform="translate(1441.72 92.2) rotate(-90) scale(0.86 1.03)" font-size="44">F1</text>
<text class="cl" transform="translate(1493.36 92.2) rotate(-90) scale(0.86 1.03)" font-size="44">F2</text>
<text class="cl" transform="translate(1545 92.2) rotate(-90) scale(0.86 1.03)" font-size="44">F3</text>
<text class="cl" transform="translate(1596.64 92.2) rotate(-90) scale(0.9 1.03)" font-size="44">FB1</text>
<text class="cl" transform="translate(1648.28 92.2) rotate(-90) scale(0.9 1.03)" font-size="44">FB2</text>
<text class="cl" transform="translate(1699.92 92.2) rotate(-90) scale(0.9 1.03)" font-size="44">FB3</text>
<text class="cl" transform="translate(1751.56 92.2) rotate(-90) scale(0.86 1.03)" font-size="44">S1</text>
<text class="cl" transform="translate(1803.2 92.2) rotate(-90) scale(0.86 1.03)" font-size="44">S2</text>
<text class="cl" transform="translate(1854.84 92.2) rotate(-90) scale(0.86 1.03)" font-size="44">S3</text>
<text class="cl" transform="translate(1906.48 92.2) rotate(-90) scale(0.86 1.03)" font-size="44">L1</text>
<text class="cl" transform="translate(1958.12 92.2) rotate(-90) scale(0.86 1.03)" font-size="44">L2</text>
<text class="cl" transform="translate(2009.76 92.2) rotate(-90) scale(0.86 1.03)" font-size="44">L3</text>
<text class="rl" transform="translate(747.05 146.4) scale(1.0496 1)" font-size="50">Serine</text>
<text class="rl" transform="translate(751 198) scale(1.0381 1)" font-size="50">Valine</text>
<text class="rl" transform="translate(749.02 249.6) scale(0.9904 1)" font-size="50">Glutamine</text>
<text class="rl" transform="translate(753.99 301.2) scale(1.0076 1)" font-size="50">Tyrosine</text>
<text class="rl" transform="translate(748.1 352.8) scale(1.0043 1)" font-size="50">Phenylalanine</text>
<text class="rl" transform="translate(748.11 404.4) scale(0.9937 1)" font-size="50">Leucine</text>
<text class="rl" transform="translate(748.06 456) scale(1.0437 1)" font-size="50">Proline</text>
<text class="rl" transform="translate(748.09 507.6) scale(1.01 1)" font-size="50">Tryptophan</text>
<text class="rl" transform="translate(747.4 719.5) scale(0.9986 1)" font-size="50">Guanosine</text>
<text class="rl" transform="translate(747.42 771) scale(0.9856 1)" font-size="50">Guanine</text>
<text class="rl" transform="translate(746.4 822.5) scale(1.0065 1)" font-size="50">Adenine</text>
<text class="rl" transform="translate(746.39 874) scale(1.017 1)" font-size="50">Adenosine</text>
<text class="rl" transform="translate(746.4 925.5) scale(1.0054 1)" font-size="50">Adenosine monophosphate</text>
<text class="rl" transform="translate(746.38 977) scale(1.0085 1)" font-size="50">5′-Methylthioadenosine</text>
<text class="rl" transform="translate(2049 153.4) scale(1.025 1)" font-size="50">Lyso PC 19:3 sn-1</text>
<text class="rl" transform="translate(2049 205.1) scale(1.025 1)" font-size="50">Lyso PC 18:2 sn-1</text>
<text class="rl" transform="translate(2049 256.8) scale(1.025 1)" font-size="50">Lyso PC 18:3 sn-1</text>
<text class="rl" transform="translate(2049 308.5) scale(1.025 1)" font-size="50">Lyso PC 19:3 sn-2</text>
<text class="rl" transform="translate(2049 360.2) scale(1.025 1)" font-size="50">Lyso PC 18:0</text>
<text class="rl" transform="translate(2049 411.9) scale(1.025 1)" font-size="50">Lyso PC 16:1</text>
<text class="rl" transform="translate(2049 463.6) scale(1.025 1)" font-size="50">Lyso PC 18:1 sn-2</text>
<text class="rl" transform="translate(2049 515.3) scale(1.025 1)" font-size="50">Lyso PC 18:3 sn-2</text>
<text class="rl" transform="translate(2049 567) scale(1.025 1)" font-size="50">Lyso PC 18:1 sn-1</text>
<text class="rl" transform="translate(2049 618.7) scale(1.025 1)" font-size="50">Lyso PE 18:2sn-1</text>
<text class="rl" transform="translate(2049 670.4) scale(1.025 1)" font-size="50">Lyso PE 18:0</text>
<text class="rl" transform="translate(2049 722.1) scale(1.025 1)" font-size="50">Lyso PE 18:2sn-2</text>
<text class="rl" transform="translate(2049 773.8) scale(1.025 1)" font-size="50">Lyso PC 18:2 sn-2</text>
<text class="rl" transform="translate(2049 825.5) scale(1.025 1)" font-size="50">Lyso PE 16:0 sn-1</text>
<text class="rl" transform="translate(2049 877.2) scale(1.025 1)" font-size="50">Lyso PE 16:0 sn-2</text>
<text class="rl" transform="translate(2049 928.9) scale(1.025 1)" font-size="50">Lyso PC 16:0</text>
<text class="rl" transform="translate(2049 980.6) scale(1.025 1)" font-size="50">Lyso PE 18:3sn-1</text>
<text class="rl" transform="translate(2049 1032.3) scale(1.025 1)" font-size="50">Lyso PE 18:1</text>
<text class="rl" transform="translate(2049 1084) scale(1.025 1)" font-size="50">Lyso PE 18:3sn-2</text>
<rect x="95.4" y="1005" width="614" height="38.4" fill="url(#cb)"/>
<rect x="95.4" y="1005" width="614" height="1.6" fill="#000" fill-opacity="0.22"/>
<rect x="95.4" y="1041.6" width="614" height="1.8" fill="#000" fill-opacity="0.22"/>
<text class="sl" x="96.2" y="1085.2" font-size="34.2">−1.0</text>
<text class="sl" x="387.4" y="1085.2" font-size="34.2">0.0</text>
<text class="sl" x="661.2" y="1085.2" font-size="34.2">1.0</text>
</svg>
</body>
</html>
